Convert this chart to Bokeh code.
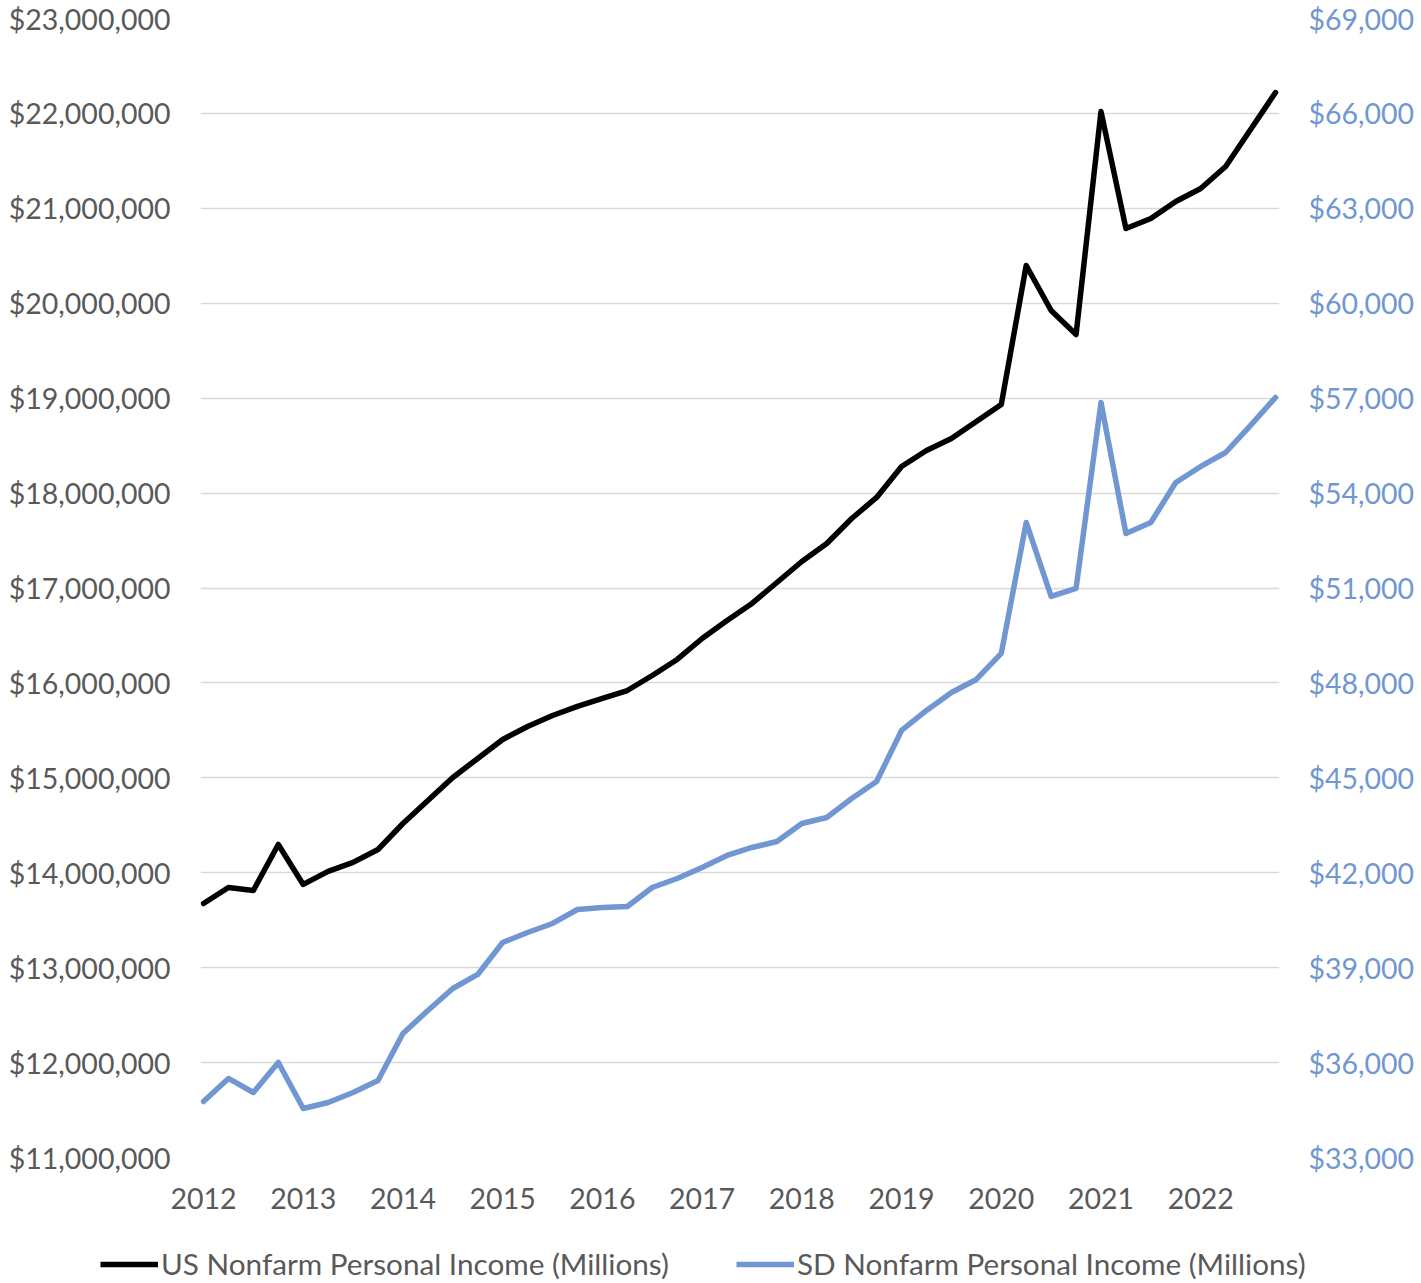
from bokeh.plotting import figure
from bokeh.layouts import column, row
from bokeh.models import Range1d, LinearAxis, FixedTicker, NumeralTickFormatter, Legend, LegendItem
from bokeh.embed import file_html
from bokeh.resources import INLINE

# Quarterly data 2012Q1 - 2022Q4
quarters = [2012 + i * 0.25 for i in range(44)]
us_income = [
    13676000, 13845000, 13813000, 14298000, 13877000, 14014000, 14109000, 14245000,
    14519000, 14762000, 15004000, 15204000, 15404000, 15541000, 15657000, 15752000,
    15836000, 15920000, 16078000, 16247000, 16468000, 16658000, 16837000, 17058000,
    17279000, 17469000, 17732000, 17954000, 18280000, 18449000, 18575000, 18754000,
    18933000, 20398000, 19924000, 19671000, 22020000, 20788000, 20893000, 21072000,
    21209000, 21441000, 21831000, 22220000,
]
sd_income = [
    34771, 35498, 35055, 36003, 34549, 34739, 35055, 35435,
    36920, 37647, 38342, 38785, 39796, 40112, 40397, 40839,
    40902, 40934, 41534, 41819, 42166, 42546, 42799, 42988,
    43557, 43747, 44348, 44885, 46497, 47129, 47698, 48109,
    48931, 53071, 50732, 50985, 56863, 52723, 53071, 54336,
    54841, 55283, 56137, 57021,
]
year_ticks = list(range(2012, 2023))
left_ticks = list(range(11000000, 23000001, 1000000))
right_ticks = list(range(33000, 69001, 3000))
series_labels = ["US Nonfarm Personal Income (Millions)", "SD Nonfarm Personal Income (Millions)"]

FONT = "Lato"
GRAY = "#595959"
BLUE = "#7097D2"
TICK_SIZE = "28.5px"

p = figure(width=1417, height=1229, output_backend="svg", toolbar_location=None,
           x_range=Range1d(2011.97, 2022.79), y_range=Range1d(11000000, 23000000),
           min_border_left=200, min_border_right=0, min_border_top=18, min_border_bottom=72)
p.outline_line_color = None
p.extra_y_ranges = {"sd": Range1d(33000, 69000)}

p.xgrid.grid_line_color = None
p.ygrid.grid_line_color = "#D9D9D9"
p.ygrid.grid_line_width = 1.5
p.ygrid.ticker = FixedTicker(ticks=left_ticks)


def style_axis(a, color, standoff):
    a.axis_line_color = None
    a.major_tick_line_color = None
    a.minor_tick_line_color = None
    a.major_tick_out = 0
    a.major_tick_in = 0
    a.minor_tick_out = 0
    a.minor_tick_in = 0
    a.axis_label_standoff = 0
    a.major_label_text_font = FONT
    a.major_label_text_font_size = TICK_SIZE
    a.major_label_text_color = color
    a.major_label_standoff = standoff


ax = p.xaxis[0]
ax.ticker = FixedTicker(ticks=year_ticks)
style_axis(ax, GRAY, 30)

ay = p.yaxis[0]
ay.ticker = FixedTicker(ticks=left_ticks)
ay.formatter = NumeralTickFormatter(format="$0,0")
style_axis(ay, GRAY, 30)

ry = LinearAxis(y_range_name="sd", ticker=FixedTicker(ticks=right_ticks),
                formatter=NumeralTickFormatter(format="$0,0"))
style_axis(ry, BLUE, 29)
p.add_layout(ry, "right")

p.line(quarters, us_income, line_color="black", line_width=5.5, line_join="round", line_cap="round")
p.line(quarters, sd_income, line_color=BLUE, line_width=5.5, line_join="round", line_cap="round",
       y_range_name="sd")

# Legend strip below the chart (proxy renderers hold the same series, but lie outside this strip's ranges)
lg = figure(width=1417, height=52, output_backend="svg", toolbar_location=None,
            x_range=Range1d(0, 1), y_range=Range1d(0, 1),
            x_axis_type=None, y_axis_type=None,
            min_border_left=0, min_border_right=0, min_border_top=0, min_border_bottom=0)
lg.outline_line_color = None
lg.grid.grid_line_color = None
l_us = lg.line(quarters, us_income, line_color="black", line_width=5.5)
l_sd = lg.line(quarters, sd_income, line_color=BLUE, line_width=5.5)
legend = Legend(items=[
    LegendItem(label=series_labels[0], renderers=[l_us]),
    LegendItem(label=series_labels[1], renderers=[l_sd]),
], orientation="horizontal", location=(100, 0))
legend.label_text_font = FONT
legend.label_text_font_size = "29.7px"
legend.label_text_color = GRAY
legend.glyph_width = 58
legend.label_standoff = 3
legend.spacing = 67
legend.padding = 0
legend.margin = 0
legend.border_line_color = None
legend.background_fill_alpha = 0
legend.label_height = 30
legend.glyph_height = 30
lg.add_layout(legend, "center")

layout = column(p, row(lg, spacing=0), spacing=0)
open("out.html", "w").write(file_html(layout, INLINE))
